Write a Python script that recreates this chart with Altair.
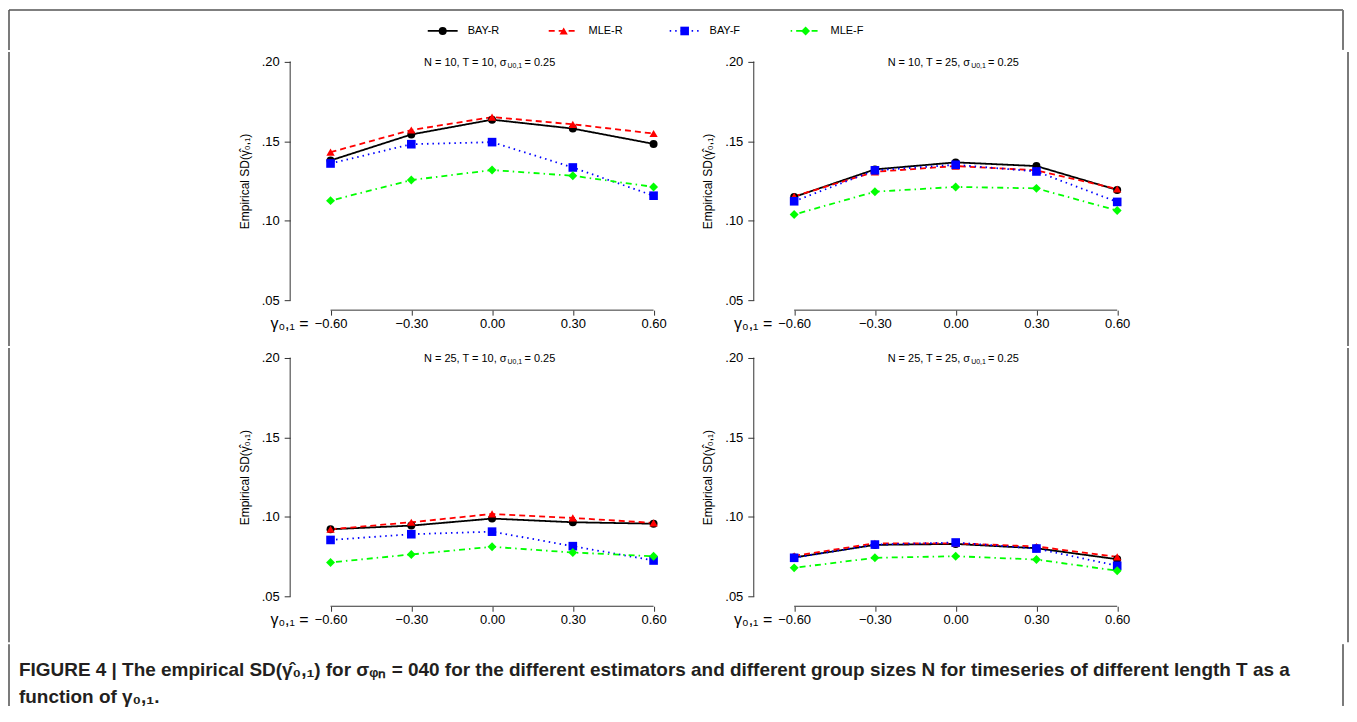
import altair as alt
import pandas as pd

# ---------------- data ----------------
series = ["BAY-R", "MLE-R", "BAY-F", "MLE-F"]
colors = ["#000000", "#FF0000", "#0000FF", "#00FF00"]
shapes = ["circle", "triangle-up", "square", "diamond"]
marker_sizes = [64, 80, 54, 50]
dashes = [[1, 0], [6, 4], [1.5, 4], [1.5, 4, 6, 4]]

gamma = [-0.60, -0.30, 0.00, 0.30, 0.60]
x_ticks = [-0.60, -0.30, 0.00, 0.30, 0.60]
y_ticks = [0.05, 0.10, 0.15, 0.20]

panel_N = [10, 10, 25, 25]
panel_T = [10, 25, 10, 25]
panel_sigma = [0.25, 0.25, 0.25, 0.25]

# panel 1: N = 10, T = 10
bay_r_1 = [0.1379, 0.1542, 0.1635, 0.1579, 0.1483]
mle_r_1 = [0.1431, 0.1570, 0.1651, 0.1606, 0.1548]
bay_f_1 = [0.1360, 0.1481, 0.1494, 0.1335, 0.1158]
mle_f_1 = [0.1127, 0.1256, 0.1319, 0.1283, 0.1213]
# panel 2: N = 10, T = 25
bay_r_2 = [0.1150, 0.1323, 0.1367, 0.1344, 0.1194]
mle_r_2 = [0.1154, 0.1308, 0.1344, 0.1317, 0.1200]
bay_f_2 = [0.1123, 0.1317, 0.1352, 0.1310, 0.1119]
mle_f_2 = [0.1040, 0.1183, 0.1213, 0.1204, 0.1065]
# panel 3: N = 25, T = 10
bay_r_3 = [0.0923, 0.0946, 0.0990, 0.0967, 0.0958]
mle_r_3 = [0.0923, 0.0967, 0.1019, 0.0994, 0.0963]
bay_f_3 = [0.0856, 0.0892, 0.0908, 0.0817, 0.0727]
mle_f_3 = [0.0715, 0.0765, 0.0813, 0.0777, 0.0754]
# panel 4: N = 25, T = 25
bay_r_4 = [0.0746, 0.0825, 0.0831, 0.0804, 0.0735]
mle_r_4 = [0.0756, 0.0835, 0.0835, 0.0815, 0.0750]
bay_f_4 = [0.0744, 0.0827, 0.0840, 0.0802, 0.0694]
mle_f_4 = [0.0681, 0.0744, 0.0754, 0.0733, 0.0663]

panels_values = [
    [bay_r_1, mle_r_1, bay_f_1, mle_f_1],
    [bay_r_2, mle_r_2, bay_f_2, mle_f_2],
    [bay_r_3, mle_r_3, bay_f_3, mle_f_3],
    [bay_r_4, mle_r_4, bay_f_4, mle_f_4],
]

caption_lines = [
    "FIGURE 4 | The empirical SD(γ̂₀,₁) for σᵩₙ = 040 for the different estimators and different group sizes N for timeseries of different length T as a",
    "function of γ₀,₁.",
]

x_title = "γ₀,₁ ="
y_title = "Empirical SD(γ̂₀,₁)"

# ---------------- layout constants ----------------
FONT = "Liberation Sans"
W, H = 405, 259
TOTAL_W = 1338
AX = "#333333"
BORDER = "#7a7a7a"
LEG_H = 40
LEG_Y = 21
ROW_EXTRA = 36
CAP_H = 62
SP_L, SP_R, GAP = 222, 184, 7

x_scale = alt.Scale(domain=[-0.75, 0.75], nice=False, zero=False)
y_scale = alt.Scale(domain=[0.044, 0.206], nice=False, zero=False)
color_scale = alt.Scale(domain=series, range=colors)
shape_scale = alt.Scale(domain=series, range=shapes)
size_scale = alt.Scale(domain=series, range=marker_sizes)
dash_scale = alt.Scale(domain=series, range=dashes)

x_axis = alt.Axis(values=x_ticks, format=".2f", domain=False, grid=False,
                  tickSize=5, tickColor=AX, labelPadding=2, labelFontSize=13,
                  labelColor="#000", title=x_title, titleFontSize=16,
                  titleFontWeight="normal", titleX=18, titleY=13,
                  titleAlign="right", titleBaseline="middle", titleColor="#000")
y_axis = alt.Axis(values=y_ticks, labelExpr="substring(format(datum.value, '.2f'), 1)",
                  domain=False, grid=False, tickSize=6, tickColor=AX,
                  labelPadding=5, labelFontSize=13, labelColor="#000",
                  title=y_title, titleFontSize=12, titleFontWeight="normal",
                  titlePadding=10, titleColor="#000")


def make_panel(i):
    rows = []
    for s, vals in zip(series, panels_values[i]):
        for g, v in zip(gamma, vals):
            rows.append({"series": s, "gamma": g, "sd": v})
    df = pd.DataFrame(rows)
    base = alt.Chart(df).encode(
        x=alt.X("gamma:Q", scale=x_scale, axis=x_axis),
        y=alt.Y("sd:Q", scale=y_scale, axis=y_axis),
    )
    lines = base.mark_line(strokeWidth=1.8).encode(
        color=alt.Color("series:N", scale=color_scale, legend=None),
        strokeDash=alt.StrokeDash("series:N", scale=dash_scale, legend=None),
    )
    points = base.mark_point(filled=True, opacity=1).encode(
        color=alt.Color("series:N", scale=color_scale, legend=None),
        shape=alt.Shape("series:N", scale=shape_scale, legend=None),
        size=alt.Size("series:O", scale=size_scale, legend=None),
    )
    axdf = pd.DataFrame({"x0": [min(x_ticks)], "x1": [max(x_ticks)],
                         "y0": [min(y_ticks)], "y1": [max(y_ticks)]})
    xrule = alt.Chart(axdf).mark_rule(color=AX, strokeWidth=1).encode(
        x=alt.X("x0:Q", scale=x_scale, axis=x_axis), x2="x1:Q", y=alt.value(H))
    yrule = alt.Chart(axdf).mark_rule(color=AX, strokeWidth=1).encode(
        y=alt.Y("y0:Q", scale=y_scale, axis=y_axis), y2="y1:Q", x=alt.value(0))

    tdf = pd.DataFrame({
        "a": [f"N = {panel_N[i]}, T = {panel_T[i]}, σ"],
        "b": ["U0,1"],
        "c": [f" = {panel_sigma[i]:.2f}"],
    })
    t1 = alt.Chart(tdf).mark_text(align="right", baseline="middle", fontSize=11, color="#000").encode(
        text="a:N", x=alt.value(217), y=alt.value(11))
    t2 = alt.Chart(tdf).mark_text(align="left", baseline="middle", fontSize=7, color="#000").encode(
        text="b:N", x=alt.value(218), y=alt.value(14))
    t3 = alt.Chart(tdf).mark_text(align="left", baseline="middle", fontSize=11, color="#000").encode(
        text="c:N", x=alt.value(235), y=alt.value(11))
    return alt.layer(lines, points, xrule, yrule, t1, t2, t3).properties(width=W, height=H)


def side(w, h, at_right):
    d = pd.DataFrame({"k": [0]})
    r = alt.Chart(d).mark_rule(color=BORDER, strokeWidth=2).encode(
        x=alt.value(w if at_right else 0), y=alt.value(0), y2=alt.value(h))
    return r.properties(width=w, height=H)


# legend (with top border and border sides)
legdf = pd.DataFrame({"series": series})
leg_x = alt.X("series:N", scale=alt.Scale(type="point", domain=series, range=[435, 799], padding=0),
              axis=None)
leg_line = alt.Chart(legdf).mark_rule(strokeWidth=1.8, xOffset=-15, x2Offset=15).encode(
    x=leg_x, x2="series:N", y=alt.value(LEG_Y),
    color=alt.Color("series:N", scale=color_scale, legend=None),
    strokeDash=alt.StrokeDash("series:N", scale=dash_scale, legend=None),
)
leg_pts = alt.Chart(legdf).mark_point(filled=True, opacity=1).encode(
    x=leg_x, y=alt.value(LEG_Y),
    color=alt.Color("series:N", scale=color_scale, legend=None),
    shape=alt.Shape("series:N", scale=shape_scale, legend=None),
    size=alt.Size("series:O", scale=size_scale, legend=None),
)
leg_txt = alt.Chart(legdf).mark_text(align="left", baseline="middle", dx=25, fontSize=11, color="#000").encode(
    x=leg_x, y=alt.value(LEG_Y), text="series:N")
bdf = pd.DataFrame({"k": [0]})
b_left = alt.Chart(bdf).mark_rule(color=BORDER, strokeWidth=2).encode(
    x=alt.value(0), y=alt.value(0), y2=alt.value(LEG_H))
b_top = alt.Chart(bdf).mark_rule(color="#555555", strokeWidth=1.5).encode(
    x=alt.value(0), x2=alt.value(TOTAL_W), y=alt.value(0))
b_right = alt.Chart(bdf).mark_rule(color=BORDER, strokeWidth=2).encode(
    x=alt.value(TOTAL_W), y=alt.value(0), y2=alt.value(LEG_H))
legend = alt.layer(b_left, b_top, b_right, leg_line, leg_pts, leg_txt).properties(
    width=TOTAL_W, height=LEG_H)

row1 = alt.hconcat(side(SP_L, H + ROW_EXTRA, False), make_panel(0), make_panel(1),
                   side(SP_R, H + ROW_EXTRA, True), spacing=GAP)
row2 = alt.hconcat(side(SP_L, H + ROW_EXTRA, False), make_panel(2), make_panel(3),
                   side(SP_R, H + ROW_EXTRA, True), spacing=GAP)

capdf = pd.DataFrame({"l1": [caption_lines[0]], "l2": [caption_lines[1]]})
cap1 = alt.Chart(capdf).mark_text(align="left", baseline="middle", fontSize=19, fontWeight="bold", color="#231f20").encode(
    text="l1:N", x=alt.value(10), y=alt.value(26))
cap2 = alt.Chart(capdf).mark_text(align="left", baseline="middle", fontSize=19, fontWeight="bold", color="#231f20").encode(
    text="l2:N", x=alt.value(10), y=alt.value(53))
c_left = alt.Chart(bdf).mark_rule(color=BORDER, strokeWidth=2).encode(
    x=alt.value(0), y=alt.value(0), y2=alt.value(CAP_H))
c_right = alt.Chart(bdf).mark_rule(color=BORDER, strokeWidth=2).encode(
    x=alt.value(TOTAL_W), y=alt.value(0), y2=alt.value(CAP_H))
caption = alt.layer(c_left, c_right, cap1, cap2).properties(width=TOTAL_W, height=CAP_H)

chart = alt.vconcat(legend, row1, row2, caption, spacing=0).properties(
    padding={"left": 0, "top": 0, "right": 0, "bottom": 0}
).configure(font=FONT).configure_view(stroke="transparent", strokeWidth=0)

chart.save("out.html", embed_options={"renderer": "svg", "actions": False})
